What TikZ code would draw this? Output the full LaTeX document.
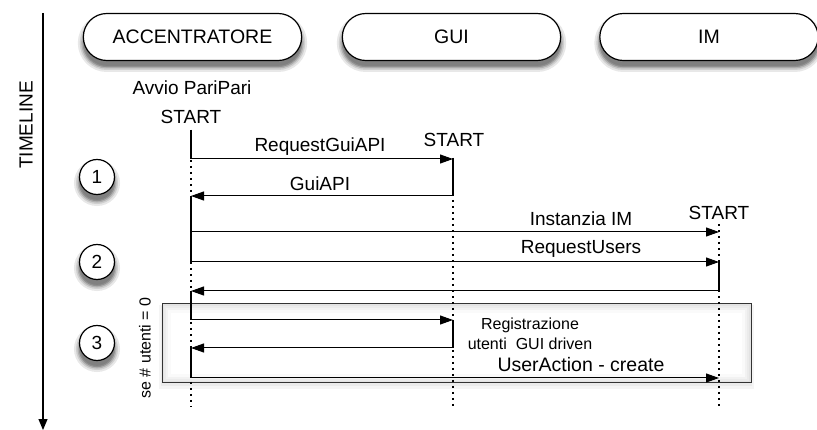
\documentclass[tikz,border=0pt]{standalone}
\usepackage{fontspec}
\setmainfont{Liberation Sans}
\usetikzlibrary{arrows.meta,shapes.misc,calc}

\begin{document}
\begin{tikzpicture}[x=1pt,y=-1pt,
  softshadow/.style={
    preaction={draw=black!9, fill=black!9, line width=11pt, transform canvas={yshift=-6pt}},
    preaction={draw=black!19, line width=7pt, transform canvas={yshift=-6pt}},
    preaction={draw=black!31, line width=4pt, transform canvas={yshift=-6pt}},
    preaction={draw=black!44, fill=black!50, line width=1.2pt, transform canvas={yshift=-6pt}}},
  actor/.style={rounded rectangle, draw, line width=1.2pt, fill=white, softshadow,
    minimum width=225pt, minimum height=47pt,
    font=\fontsize{19.5}{21}\selectfont},
  numcirc/.style={circle, draw, line width=1.2pt, fill=white, softshadow,
    minimum size=35pt, inner sep=0pt,
    font=\fontsize{19}{21}\selectfont},
  frame/.style={draw=black!80, line width=1pt, inner sep=0pt},
  txt/.style={font=\fontsize{19}{21}\selectfont, inner sep=0pt},
  smalltxt/.style={font=\fontsize{16}{19}\selectfont, inner sep=0pt},
  msg/.style={line width=1pt, -{Triangle[length=13pt,width=9pt]}},
  bar/.style={line width=2.4pt},
  life/.style={line width=1.1pt, dash pattern=on 2pt off 4pt},
]
\useasboundingbox (0,0) rectangle (817,430);

% timeline axis
\coordinate (t0) at (43,13);
\coordinate (t1) at (43,430);
\draw[line width=1.1pt, -{Triangle[length=11pt,width=9pt]}] (t0) -- (t1);
\node[txt, rotate=90] (tl) at (26,125) {TIMELINE};

% condition frame with a soft shade below and along its inner edges
\node[minimum width=589pt, minimum height=79pt, inner sep=0pt] (cond) at (456.5,343.5) {};
\fill[black!4] ($(cond.north west)+(-3,1)$) rectangle ($(cond.south east)+(3,6)$);
\fill[black!8] ($(cond.north west)+(-1,2)$) rectangle ($(cond.south east)+(1,3)$);
\fill[black!11] (cond.north west) rectangle (cond.south east);
\fill[black!8] ($(cond.north west)+(2,2)$) rectangle ($(cond.south east)+(-2,-2)$);
\fill[black!5] ($(cond.north west)+(4,4)$) rectangle ($(cond.south east)+(-4,-4)$);
\fill[black!2] ($(cond.north west)+(6,6)$) rectangle ($(cond.south east)+(-6,-6)$);
\fill[white] ($(cond.north west)+(9,9)$) rectangle ($(cond.south east)+(-9,-9)$);
\node[frame, minimum width=589pt, minimum height=79pt] (condbox) at (cond) {};
\node[smalltxt, rotate=90] (condlbl) at (145,348) {se \# utenti = 0};

% participants
\node[actor] (acc) at (192.5,37) {ACCENTRATORE};
\node[actor] (gui) at (451.5,37) {GUI};
\node[actor] (im)  at (709,37) {IM};

% step markers
\node[numcirc] (n1) at (97,177) {1};
\node[numcirc] (n2) at (97,262) {2};
\node[numcirc] (n3) at (97,343) {3};

% start labels
\node[txt] (avvio) at (192,88) {Avvio PariPari};
\node[txt] (sA) at (191,117) {START};
\node[txt] (sG) at (454,140) {START};
\node[txt] (sI) at (719,213) {START};

% lifeline anchor points
\coordinate (A0) at (191,130);
\coordinate (A1) at (191,159);
\coordinate (A2) at (191,196);
\coordinate (A3) at (191,232);
\coordinate (A4) at (191,262);
\coordinate (A5) at (191,291);
\coordinate (A6) at (191,320);
\coordinate (A7) at (191,348);
\coordinate (A8) at (191,378);
\coordinate (A9) at (191,407);
\coordinate (G0) at (453,158);
\coordinate (G1) at (453,159);
\coordinate (G2) at (453,196);
\coordinate (G6) at (453,320);
\coordinate (G7) at (453,348);
\coordinate (G9) at (453,407);
\coordinate (I0) at (719,224);
\coordinate (I3) at (719,232);
\coordinate (I4) at (719,262);
\coordinate (I5) at (719,291);
\coordinate (I8) at (719,378);
\coordinate (I9) at (719,407);

% dotted lifelines
\draw[life] (A0) -- (A9);
\draw[life] (G0) -- (G9);
\draw[life] (I0) -- (I9);

% activation bars
\draw[bar] (A0) -- (A1);
\draw[bar] (A2) -- (A4);
\draw[bar] (A5) -- (A6);
\draw[bar] (A7) -- (A8);
\draw[bar] (G0) -- (G2);
\draw[bar] (G6) -- (G7);
\draw[bar] (I4) -- (I5);

% messages
\draw[msg] (A1) -- (G1);
\node[txt] (m1) at (320,147) {RequestGuiAPI};
\draw[msg] (G2) -- (A2);
\node[txt] (m2) at (320,184) {GuiAPI};
\draw[msg] (A3) -- (I3);
\node[txt] (m3) at (581,219) {Instanzia IM};
\draw[msg] (A4) -- (I4);
\node[txt] (m4) at (581,249) {RequestUsers};
\draw[msg] (I5) -- (A5);
\draw[msg] (A6) -- (G6);
\draw[msg] (G7) -- (A7);
\node[smalltxt] (m6) at (530,325) {Registrazione};
\node[smalltxt] (m7) at (530,344) {utenti\ \ GUI driven};
\draw[msg] (A8) -- (I8);
\node[txt, font=\fontsize{19.5}{21}\selectfont] (m8) at (581,365) {UserAction - create};
\end{tikzpicture}
\end{document}
